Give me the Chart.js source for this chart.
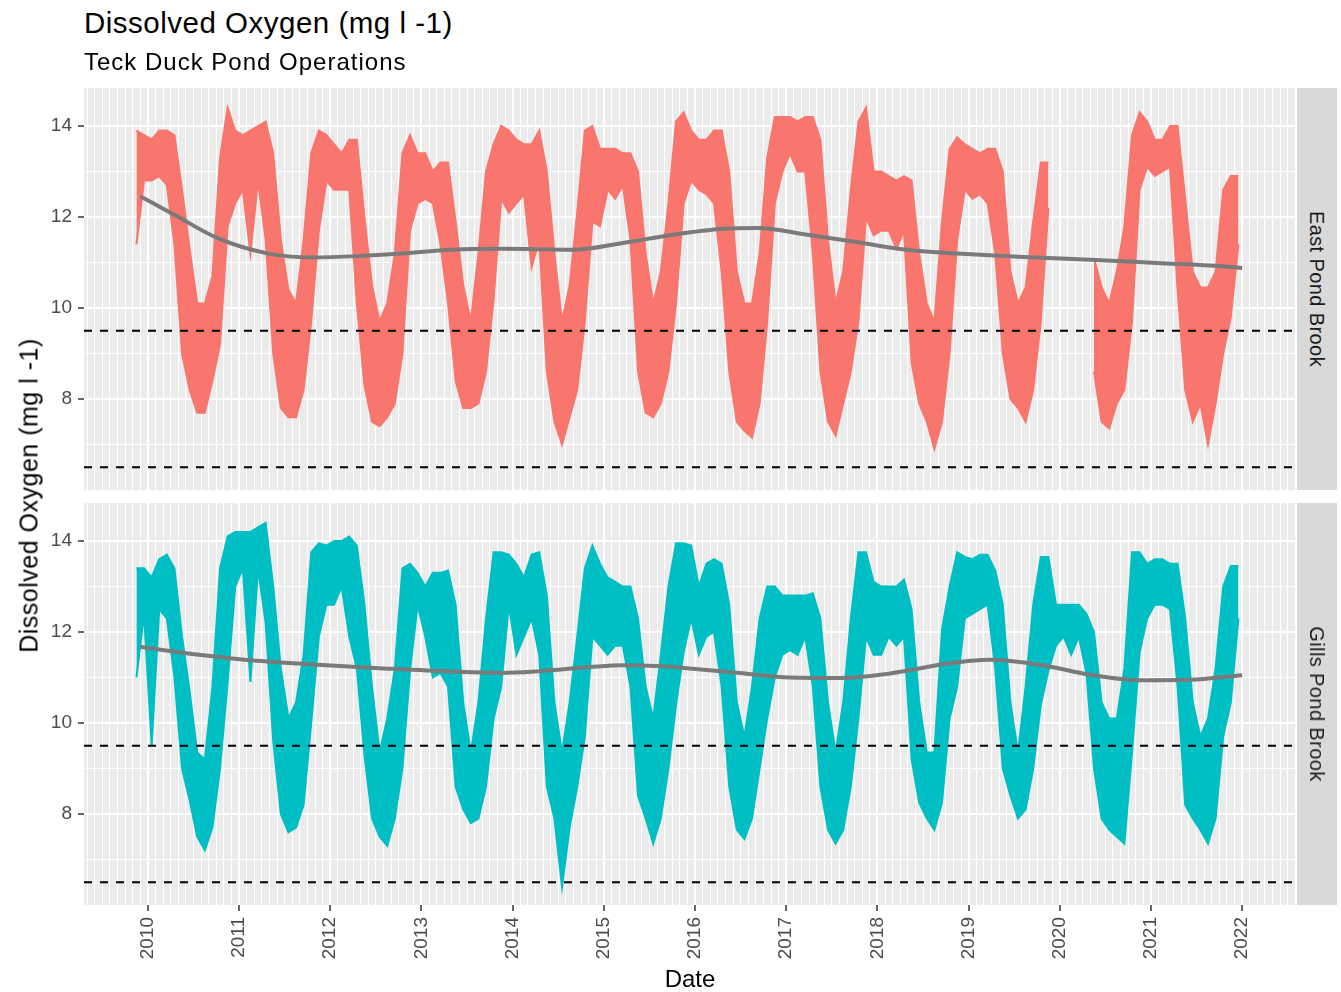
<!DOCTYPE html>
<html>
<head>
<meta charset="utf-8">
<title>Dissolved Oxygen (mg l -1)</title>
<script src="https://cdn.jsdelivr.net/npm/chart.js@4.4.1/dist/chart.umd.min.js"></script>
<style>
  body { margin: 0; background: #fff; }
  #page { position: relative; width: 1341px; height: 992px; overflow: hidden; font-family: 'Liberation Sans', Arial, sans-serif; }
  .abs { position: absolute; white-space: nowrap; }
  #title { left: 84px; top: 8px; font-size: 29.5px; line-height: 29px; letter-spacing: 0.5px; color: #000; }
  #subtitle { left: 84px; top: 50px; font-size: 24px; line-height: 24px; letter-spacing: 1px; color: #000; }
  #ytitle { left: -221px; top: 483px; width: 500px; height: 25px; font-size: 25px; line-height: 25px; letter-spacing: 0.5px; text-align: center; color: #000; transform: rotate(-90deg); }
  #xtitle { left: 590px; top: 967px; width: 200px; font-size: 24px; line-height: 24px; text-align: center; color: #000; }
  .strip { left: 1297px; width: 40px; height: 402px; background: #d9d9d9; z-index: 2; }
  .strip span { position: absolute; left: 50%; top: 50%; transform: translate(-50%, -50%) rotate(90deg); white-space: nowrap; font-size: 20px; line-height: 20px; letter-spacing: 0.4px; color: #1a1a1a; }
  canvas.abs { left: 0; }
  #chartTop { top: 68px; }
  #chartBottom { top: 483px; }
</style>
</head>
<body>
<div id="page">
  <canvas id="chartTop" class="abs" width="1341" height="442"></canvas>
  <canvas id="chartBottom" class="abs" width="1341" height="509"></canvas>
  <div id="title" class="abs">Dissolved Oxygen (mg l -1)</div>
  <div id="subtitle" class="abs">Teck Duck Pond Operations</div>
  <div id="ytitle" class="abs">Dissolved Oxygen (mg l -1)</div>
  <div id="xtitle" class="abs">Date</div>
  <div class="abs strip" style="top:88px"><span>East Pond Brook</span></div>
  <div class="abs strip" style="top:503px"><span>Gills Pond Brook</span></div>
</div>
<script>
/* Dissolved oxygen, two facets (East Pond Brook / Gills Pond Brook) */
(function () {
  'use strict';

  // monthly series start: November 2009, one value per month to December 2021
  var startYear = 2009;
  var startMonth = 10;

  // East Pond Brook, monthly upper / lower edge of the logger trace (mg/l)
  var eastHigh = [
    13.9, 13.8,
    13.7, 13.9, 13.9, 13.8, 12.6, 11.3, 10.1, 10.1, 10.7, 13.3, 14.4, 13.9,
    13.8, 13.9, 14.0, 14.1, 13.4, 11.5, 10.4, 10.1, 11.5, 13.4, 13.9, 13.8,
    13.6, 13.4, 13.7, 13.7, 12.0, 10.5, 9.7, 10.1, 11.2, 13.4, 13.8, 13.4,
    13.4, 13.0, 13.2, 13.2, 11.9, 10.5, 9.7, 11.2, 13.0, 13.6, 14.0, 13.9,
    13.7, 13.6, 13.6, 13.9, 13.0, 11.2, 9.7, 10.5, 12.1, 13.9, 14.0, 13.5,
    13.5, 13.5, 13.4, 13.4, 13.0, 11.2, 10.1, 10.8, 12.3, 14.1, 14.3, 13.9,
    13.7, 13.7, 13.9, 13.9, 13.0, 10.8, 10.1, 10.1, 11.2, 13.3, 14.2, 14.2,
    14.2, 14.1, 14.2, 14.2, 13.7, 11.5, 10.1, 10.8, 12.6, 14.1, 14.4, 13.0,
    13.0, 12.9, 12.8, 12.9, 12.8, 11.2, 10.1, 9.7, 11.9, 13.5, 13.75, 13.6,
    13.5, 13.4, 13.5, 13.5, 13.0, 10.8, 10.1, 10.45, 11.9, 13.2, 13.2, null,
    null, null, null, null, 11.1, 10.45, 10.1, 10.8, 11.8, 13.8, 14.3, 14.1,
    13.7, 13.7, 14.0, 14.0, 12.4, 10.8, 10.45, 10.45, 10.8, 12.6, 12.9, 12.9
  ];
  var eastLow = [
    11.4, 12.8,
    12.8, 12.9, 12.7, 11.4, 9.0, 8.2, 7.7, 7.7, 8.4, 9.2, 11.8, 12.3,
    12.6, 11.2, 12.8, 11.5, 9.0, 7.8, 7.6, 7.6, 8.2, 9.7, 11.7, 12.8,
    12.6, 12.6, 12.6, 10.1, 8.3, 7.5, 7.4, 7.6, 7.9, 9.0, 11.7, 12.3,
    12.4, 12.3, 11.4, 10.1, 8.4, 7.8, 7.8, 7.9, 8.6, 10.2, 12.4, 12.1,
    12.3, 12.5, 10.9, 11.5, 8.6, 7.5, 7.0, 7.6, 8.2, 9.7, 11.9, 11.8,
    12.6, 12.4, 12.7, 11.5, 8.6, 7.7, 7.6, 7.9, 8.6, 10.1, 12.3, 12.8,
    12.6, 12.5, 12.3, 10.8, 8.6, 7.5, 7.3, 7.15, 7.9, 9.7, 12.3, 13.0,
    13.4, 13.0, 13.0, 11.2, 8.6, 7.5, 7.2, 7.9, 8.6, 9.7, 12.0, 11.6,
    11.7, 11.7, 11.3, 11.7, 8.8, 7.9, 7.5, 6.9, 7.5, 9.0, 11.5, 12.6,
    12.4, 12.5, 12.3, 11.2, 9.0, 8.0, 7.8, 7.5, 8.2, 9.7, 12.2, null,
    null, null, null, null, 8.6, 7.5, 7.35, 7.9, 8.2, 9.7, 12.6, 13.1,
    12.9, 13.0, 13.1, 10.4, 8.2, 7.5, 7.9, 7.0, 7.9, 9.0, 9.8, 11.4
  ];

  // Gills Pond Brook, monthly upper / lower edge (mg/l)
  var gillsHigh = [
    13.4, 13.4,
    13.2, 13.6, 13.7, 13.4, 11.9, 10.7, 9.35, 9.2, 10.8, 13.4, 14.1, 14.2,
    14.2, 14.2, 14.3, 14.4, 13.0, 11.2, 10.1, 10.45, 11.5, 13.75, 13.95, 13.9,
    14.0, 14.0, 14.1, 13.9, 12.6, 10.8, 9.35, 10.1, 11.2, 13.4, 13.5, 13.3,
    13.0, 13.3, 13.3, 13.35, 12.6, 10.45, 9.35, 10.45, 12.3, 13.75, 13.75, 13.7,
    13.5, 13.2, 13.7, 13.75, 12.8, 10.45, 9.35, 10.45, 11.9, 13.4, 13.9, 13.5,
    13.2, 13.1, 13.0, 13.0, 12.3, 10.8, 10.1, 11.5, 13.0, 13.95, 13.95, 13.9,
    13.0, 13.5, 13.6, 13.5, 12.6, 10.45, 9.7, 10.8, 12.3, 13.0, 13.0, 12.8,
    12.8, 12.8, 12.8, 12.85, 12.3, 10.45, 9.35, 10.45, 12.3, 13.75, 13.75, 13.1,
    13.0, 13.0, 13.0, 13.15, 12.5, 10.45, 9.35, 9.35, 12.05, 13.0, 13.75, 13.65,
    13.6, 13.7, 13.7, 13.35, 12.6, 10.45, 9.35, 10.8, 12.6, 13.65, 13.65, 12.6,
    12.6, 12.6, 12.6, 12.4, 12.0, 10.45, 10.1, 10.1, 11.2, 13.75, 13.75, 13.5,
    13.6, 13.6, 13.5, 13.5, 12.3, 10.45, 9.7, 10.1, 11.2, 13.0, 13.45, 13.45
  ];
  var gillsLow = [
    11.0, 12.4,
    9.5, 12.5, 12.3, 11.0, 9.0, 8.3, 7.5, 7.2, 7.7, 9.0, 10.9, 13.0,
    13.4, 10.9, 13.4, 12.2, 9.6, 8.0, 7.6, 7.7, 8.2, 10.0, 11.9, 12.6,
    12.6, 13.0, 11.9, 11.2, 9.3, 7.9, 7.5, 7.3, 7.9, 9.0, 11.15, 12.6,
    11.9, 11.0, 11.1, 10.8, 8.6, 8.1, 7.8, 7.9, 8.6, 10.1, 10.8, 12.6,
    11.5, 11.9, 12.3, 11.5, 8.6, 7.9, 6.4, 7.7, 8.6, 9.7, 11.9, 11.7,
    11.5, 11.7, 11.7, 10.8, 8.4, 7.9, 7.35, 7.9, 9.0, 10.4, 11.55, 12.3,
    11.5, 11.9, 12.0, 10.8, 8.6, 7.65, 7.45, 7.9, 9.0, 10.1, 11.0, 11.5,
    11.6, 11.5, 11.9, 10.8, 8.6, 7.65, 7.35, 7.65, 8.6, 10.1, 11.9, 11.5,
    11.5, 11.9, 11.7, 11.9, 9.2, 8.25, 7.9, 7.65, 8.25, 10.1, 10.8, 12.3,
    12.4, 12.5, 12.6, 11.2, 9.0, 8.4, 7.9, 8.1, 9.0, 10.4, 11.15, 11.7,
    11.9, 11.5, 11.9, 11.1, 9.0, 7.9, 7.65, 7.5, 7.35, 9.35, 11.55, 12.3,
    12.6, 12.6, 12.5, 10.8, 8.2, 7.9, 7.65, 7.35, 7.9, 9.7, 10.45, 12.3
  ];

  // loess trend lines (decimal year, mg/l)
  var eastSmoothYears = [2009.92, 2010.29, 2010.76, 2011.31, 2011.79, 2012.30, 2012.78, 2013.33, 2013.88,
    2014.66, 2015.21, 2015.76, 2016.31, 2016.68, 2017.23, 2017.77, 2018.32, 2018.87, 2019.60,
    2020.33, 2021.06, 2021.79, 2022.00];
  var eastSmooth = [12.45, 12.05, 11.54, 11.20, 11.11, 11.14, 11.20, 11.28, 11.30,
    11.28, 11.43, 11.61, 11.74, 11.76, 11.61, 11.45, 11.28, 11.20, 11.12,
    11.06, 10.99, 10.92, 10.88];
  var gillsSmoothYears = [2009.92, 2010.40, 2011.13, 2011.86, 2012.59, 2013.33, 2013.88, 2014.30, 2014.85,
    2015.21, 2015.58, 2015.94, 2016.49, 2017.04, 2017.59, 2017.95, 2018.36, 2018.68, 2019.23,
    2019.78, 2020.33, 2020.88, 2021.42, 2022.00];
  var gillsSmooth = [11.67, 11.54, 11.38, 11.28, 11.20, 11.13, 11.10, 11.14, 11.23,
    11.27, 11.25, 11.20, 11.10, 11.00, 10.99, 11.04, 11.16, 11.28, 11.39,
    11.28, 11.06, 10.94, 10.95, 11.05];

  // guideline levels and axis ticks
  var thresholds = [9.5, 6.5];
  var yearTicks = [2010, 2011, 2012, 2013, 2014, 2015, 2016, 2017, 2018, 2019, 2020, 2021, 2022];
  var yTicks = [7, 8, 9, 10, 11, 12, 13, 14];
  var yLabels = [8, 10, 12, 14];

  var xMin = 2009.30, xMax = 2022.59;
  var yMin = 6.0, yMax = 14.835;

  // monthly minor breaks across the panel
  var monthTicks = [];
  for (var yr = 2009; yr <= 2022; yr++) {
    for (var m = 0; m < 12; m++) {
      var v = yr + m / 12;
      if (v >= xMin && v <= xMax) monthTicks.push(v);
    }
  }

  function isYear(v) { return yearTicks.indexOf(v) !== -1; }

  function monthPoints(values) {
    return values.map(function (val, i) {
      return { x: startYear + (startMonth + i + 0.5) / 12, y: val };
    });
  }

  function pairPoints(xs, ys) {
    return xs.map(function (x, i) { return { x: x, y: ys[i] }; });
  }

  var panelBackground = {
    id: 'panelBackground',
    beforeDraw: function (chart) {
      var a = chart.chartArea, c = chart.ctx;
      c.save();
      c.fillStyle = '#ebebeb';
      c.fillRect(a.left, a.top, a.right - a.left, a.bottom - a.top);
      c.restore();
    }
  };

  Chart.defaults.font.family = "'Liberation Sans', Arial, sans-serif";

  function makePanel(id, high, low, smoothX, smoothY, colour, showX) {
    var hline = function (level) {
      return {
        data: [{ x: xMin, y: level }, { x: xMax, y: level }],
        borderColor: '#000',
        borderWidth: 2,
        borderDash: [8, 8],
        pointRadius: 0,
        fill: false
      };
    };
    new Chart(document.getElementById(id), {
      type: 'line',
      data: {
        datasets: [
          hline(thresholds[0]),
          hline(thresholds[1]),
          {
            data: pairPoints(smoothX, smoothY),
            borderColor: '#7a7a7a',
            borderWidth: 4,
            cubicInterpolationMode: 'monotone',
            pointRadius: 0,
            fill: false
          },
          {
            data: monthPoints(high),
            borderColor: colour,
            borderWidth: 2,
            pointRadius: 0,
            spanGaps: false,
            fill: false
          },
          {
            data: monthPoints(low),
            borderColor: colour,
            backgroundColor: colour,
            borderWidth: 2,
            pointRadius: 0,
            spanGaps: false,
            fill: '-1'
          }
        ]
      },
      options: {
        responsive: false,
        animation: false,
        layout: { padding: { top: 20, bottom: showX ? 0 : 20, left: 0, right: 45 } },
        plugins: { legend: { display: false }, tooltip: { enabled: false } },
        scales: {
          x: {
            type: 'linear',
            min: xMin,
            max: xMax,
            afterBuildTicks: function (s) {
              s.ticks = monthTicks.map(function (v) { return { value: v }; });
            },
            afterFit: function (s) { s.height = showX ? 87 : 0; },
            border: { display: false },
            grid: {
              color: '#ffffff',
              lineWidth: function (ctx) { return ctx.tick && isYear(ctx.tick.value) ? 2 : 1; },
              drawTicks: showX,
              tickLength: 6,
              tickWidth: 1.5,
              tickColor: function (ctx) { return ctx.tick && isYear(ctx.tick.value) ? '#333333' : 'rgba(0,0,0,0)'; }
            },
            ticks: {
              display: showX,
              autoSkip: false,
              minRotation: 90,
              maxRotation: 90,
              padding: 6,
              color: '#4d4d4d',
              font: { size: 19 },
              callback: function (v) { return isYear(v) ? String(v) : ''; }
            }
          },
          y: {
            min: yMin,
            max: yMax,
            afterBuildTicks: function (s) {
              s.ticks = yTicks.map(function (v) { return { value: v }; });
            },
            afterFit: function (s) { s.width = 84; },
            border: { display: false },
            grid: {
              color: '#ffffff',
              lineWidth: function (ctx) { return ctx.tick && yLabels.indexOf(ctx.tick.value) !== -1 ? 2 : 1; },
              tickLength: 6,
              tickWidth: 1.5,
              tickColor: function (ctx) { return ctx.tick && yLabels.indexOf(ctx.tick.value) !== -1 ? '#333333' : 'rgba(0,0,0,0)'; }
            },
            ticks: {
              padding: 6,
              color: '#4d4d4d',
              font: { size: 19 },
              callback: function (v) { return yLabels.indexOf(v) !== -1 ? String(v) : ''; }
            }
          }
        }
      },
      plugins: [panelBackground]
    });
  }

  makePanel('chartTop', eastHigh, eastLow, eastSmoothYears, eastSmooth, '#f8766d', false);
  makePanel('chartBottom', gillsHigh, gillsLow, gillsSmoothYears, gillsSmooth, '#00bfc4', true);
})();
</script>
</body>
</html>
